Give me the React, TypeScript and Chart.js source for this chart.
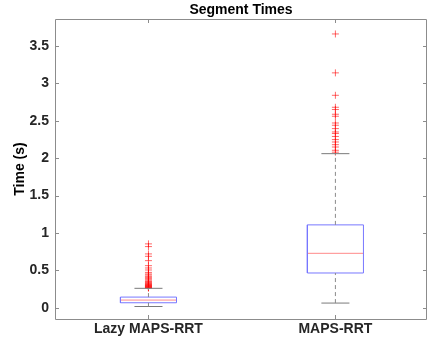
import React, { useEffect, useRef } from "react";
import { Chart, registerables } from "chart.js";

Chart.register(...registerables);

const chartTitle = "Segment Times";
const yAxisTitle = "Time (s)";
const categories = ["Lazy MAPS-RRT", "MAPS-RRT"];
const q1 = [0.067, 0.465];
const medians = [0.103, 0.728];
const q3 = [0.143, 1.108];
const whiskerLow = [0.017, 0.063];
const whiskerHigh = [0.26, 2.06];
const lazyOutliers = [
  0.854, 0.818, 0.72, 0.688, 0.63, 0.563, 0.532, 0.505, 0.473, 0.452, 0.438,
  0.42, 0.406, 0.39, 0.375, 0.36, 0.35, 0.339, 0.33, 0.322, 0.315, 0.308,
  0.304, 0.298, 0.292, 0.286, 0.282, 0.277, 0.272, 0.268, 0.264,
];
const mapsOutliers = [
  3.66, 3.14, 2.84, 2.68, 2.65, 2.587, 2.56, 2.47, 2.44, 2.395, 2.35, 2.33,
  2.29, 2.248, 2.216, 2.18, 2.149, 2.105, 2.08,
];
const outliers = [lazyOutliers, mapsOutliers];
const yTicks = [0, 0.5, 1, 1.5, 2, 2.5, 3, 3.5];

const BOX_HALF = 0.15;
const CAP_HALF = 0.075;
const FONT = "'Liberation Sans', Arial, Helvetica, sans-serif";

const framePlugin = {
  id: "frame",
  afterDraw(chart: any) {
    const { ctx, chartArea: a, scales } = chart;
    ctx.save();
    ctx.setLineDash([]);
    ctx.strokeStyle = "#8c8c8c";
    ctx.lineWidth = 1;
    ctx.beginPath();
    ctx.rect(
      Math.round(a.left) + 0.5,
      Math.round(a.top) + 0.5,
      Math.round(a.right - a.left) - 1,
      Math.round(a.bottom - a.top)
    );
    ctx.stroke();
    const L = 4;
    ctx.beginPath();
    yTicks.forEach((v) => {
      const y = Math.round(scales.y.getPixelForValue(v)) + 0.5;
      ctx.moveTo(a.left, y);
      ctx.lineTo(a.left + L, y);
      ctx.moveTo(a.right, y);
      ctx.lineTo(a.right - L, y);
    });
    categories.forEach((_, i) => {
      const x = Math.round(scales.x.getPixelForValue(i + 1)) + 0.5;
      ctx.moveTo(x, a.bottom);
      ctx.lineTo(x, a.bottom - L);
      ctx.moveTo(x, a.top);
      ctx.lineTo(x, a.top + L);
    });
    ctx.stroke();
    ctx.fillStyle = "#000";
    ctx.font = `bold 14px ${FONT}`;
    ctx.textAlign = "center";
    ctx.textBaseline = "middle";
    ctx.fillText(chartTitle, (a.left + a.right) / 2, 10.5);
    ctx.restore();
  },
};

export default function App() {
  const ref = useRef<HTMLCanvasElement>(null);
  useEffect(() => {
    const datasets: any[] = [];
    categories.forEach((_, i) => {
      const c = i + 1;
      datasets.push({
        data: [
          { x: c, y: q3[i] },
          { x: c, y: whiskerHigh[i] },
        ],
        showLine: true,
        borderColor: "#8a8a8a",
        borderWidth: 1,
        borderDash: [4, 3],
        pointRadius: 0,
      });
      datasets.push({
        data: [
          { x: c, y: whiskerLow[i] },
          { x: c, y: q1[i] },
        ],
        showLine: true,
        borderColor: "#8a8a8a",
        borderWidth: 1,
        borderDash: [4, 3],
        pointRadius: 0,
      });
      [whiskerHigh[i], whiskerLow[i]].forEach((v) => {
        datasets.push({
          data: [
            { x: c - CAP_HALF, y: v },
            { x: c + CAP_HALF, y: v },
          ],
          showLine: true,
          borderColor: "#7a7a7a",
          borderWidth: 1,
          pointRadius: 0,
        });
      });
      datasets.push({
        data: [
          { x: c - BOX_HALF, y: q1[i] },
          { x: c + BOX_HALF, y: q1[i] },
          { x: c + BOX_HALF, y: q3[i] },
          { x: c - BOX_HALF, y: q3[i] },
          { x: c - BOX_HALF, y: q1[i] },
        ],
        showLine: true,
        borderColor: "#7777ff",
        borderWidth: 1,
        pointRadius: 0,
      });
      datasets.push({
        data: [
          { x: c - BOX_HALF, y: medians[i] },
          { x: c + BOX_HALF, y: medians[i] },
        ],
        showLine: true,
        borderColor: "#ff8a8a",
        borderWidth: 1,
        pointRadius: 0,
      });
      datasets.push({
        data: outliers[i].map((v) => ({ x: c, y: v })),
        showLine: false,
        pointStyle: "cross",
        pointRadius: 3.5,
        pointBorderWidth: 1,
        pointBorderColor: "rgba(255,0,0,0.6)",
        pointBackgroundColor: "rgba(255,0,0,0.6)",
      });
    });

    const chart = new Chart(ref.current!, {
      type: "scatter",
      data: { datasets },
      plugins: [framePlugin],
      options: {
        animation: false,
        responsive: false,
        layout: { padding: { left: 0, right: 0, top: 19, bottom: 0 } },
        plugins: {
          legend: { display: false },
          tooltip: { enabled: false },
          title: { display: false },
        },
        scales: {
          x: {
            type: "linear",
            min: 0.5,
            max: 2.49,
            grid: { display: false, drawTicks: false },
            border: { display: false },
            afterBuildTicks: (s: any) => {
              s.ticks = categories.map((_, i) => ({ value: i + 1 }));
            },
            afterFit: (s: any) => {
              s.height = 28;
              s.paddingLeft = 0;
              s.paddingRight = 0;
            },
            ticks: {
              autoSkip: false,
              maxRotation: 0,
              padding: 2,
              color: "#262626",
              font: { family: FONT, size: 14, weight: "bold" },
              callback: (v: any) => categories[Math.round(Number(v)) - 1] ?? "",
            },
          },
          y: {
            type: "linear",
            min: -0.15,
            max: 3.86,
            grid: { display: false, drawTicks: false },
            border: { display: false },
            afterBuildTicks: (s: any) => {
              s.ticks = yTicks.map((v) => ({ value: v }));
            },
            afterFit: (s: any) => {
              s.width = 55;
              s.paddingTop = 0;
              s.paddingBottom = 0;
            },
            title: {
              display: true,
              text: yAxisTitle,
              color: "#000",
              font: { family: FONT, size: 14, weight: "bold" },
              padding: { top: 12, bottom: 0 },
            },
            ticks: {
              padding: 6,
              color: "#262626",
              font: { family: FONT, size: 14, weight: "bold" },
              callback: (v: any) => String(v),
            },
          },
        },
      },
    });
    return () => chart.destroy();
  }, []);

  return (
    <div style={{ position: "fixed", left: 0, top: 0, width: 432, height: 347, background: "#fff" }}>
      <canvas ref={ref} width={432} height={347} style={{ width: 432, height: 347, display: "block" }} />
    </div>
  );
}
